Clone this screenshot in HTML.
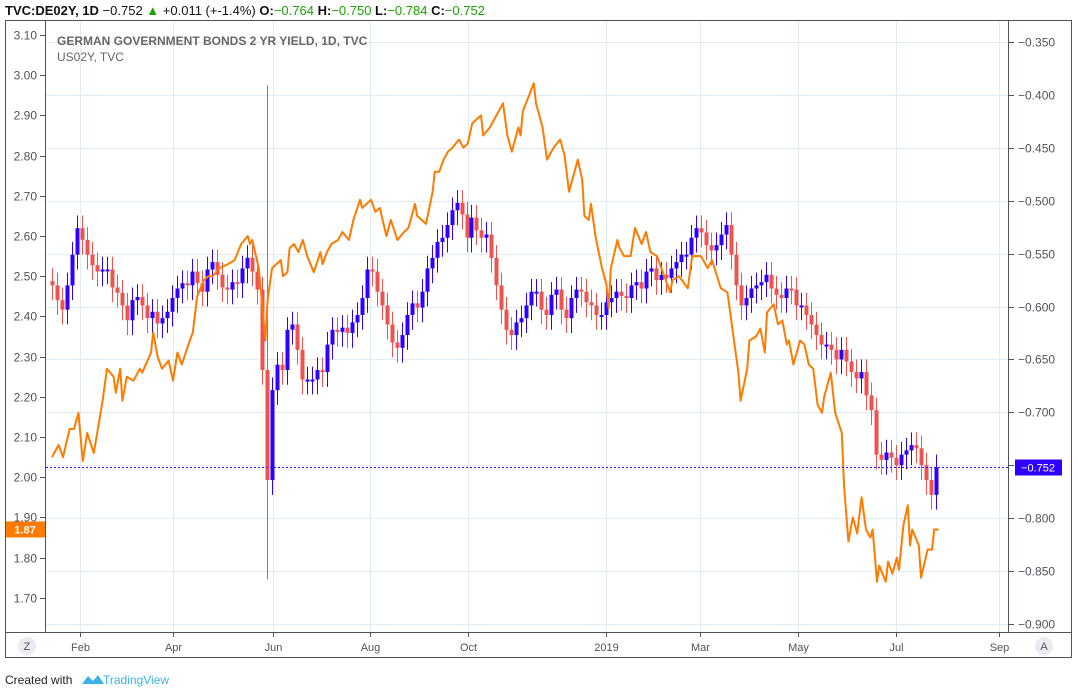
<!DOCTYPE html>
<html><head><meta charset="utf-8"><style>
body{margin:0;background:#fff;width:1078px;height:692px;overflow:hidden;font-family:"Liberation Sans",sans-serif}
svg{display:block}
text{font-family:"Liberation Sans",sans-serif}
</style></head><body>
<svg id="chart" width="1078" height="692" viewBox="0 0 1078 692">
<text x="5" y="15" font-size="13" font-weight="bold" fill="#111">TVC:DE02Y, 1D <tspan font-weight="normal">&#8722;0.752</tspan> <tspan fill="#19a300">▲</tspan><tspan font-weight="normal"> +0.011 (+-1.4%) </tspan>O:<tspan fill="#19a300" font-weight="normal">&#8722;0.764</tspan> H:<tspan fill="#19a300" font-weight="normal">&#8722;0.750</tspan> L:<tspan fill="#19a300" font-weight="normal">&#8722;0.784</tspan> C:<tspan fill="#19a300" font-weight="normal">&#8722;0.752</tspan></text>
<rect x="5.5" y="20.5" width="1066" height="637" fill="#fff" stroke="#50535e"/>
<g id="grid"></g>
<g id="plot"></g>
<line x1="45.5" y1="20" x2="45.5" y2="632" stroke="#50535e"/>
<line x1="1008.5" y1="20" x2="1008.5" y2="632" stroke="#50535e"/>
<line x1="5" y1="632.5" x2="1071" y2="632.5" stroke="#50535e"/>
<g id="axes"></g>
<text x="57" y="45" font-size="12" font-weight="bold" fill="#666">GERMAN GOVERNMENT BONDS 2 YR YIELD, 1D, TVC</text>
<text x="57" y="61" font-size="12" fill="#666">US02Y, TVC</text>
<circle cx="27" cy="646" r="9" fill="#e9ecf2"/>
<text x="27" y="650" font-size="11" fill="#555" text-anchor="middle">Z</text>
<circle cx="1044" cy="646" r="9" fill="#e9ecf2"/>
<text x="1044" y="650" font-size="11" fill="#555" text-anchor="middle">A</text>
<text x="5" y="684" font-size="12" fill="#222">Created with</text>
<path d="M82 684 l6 -8 l5 5 l5 -6 l6 9 z" fill="#3bb3e4"/>
<text x="103" y="684" font-size="12" fill="#3bb3e4">TradingView</text>
</svg>
<script>
const usDays=[0,3,5,8,10,12,14,16,19,23,25,28,29,31,32,34,37,40,41,45,46,48,50,53,55,57,59,62,64,66,69,71,73,76,80,83,86,89,90,91,94,95,97,98,100,102,104,105,107,108,110,112,114,116,119,122,123,125,127,130,132,135,137,140,141,145,147,149,152,154,157,160,162,165,166,170,173,174,176,178,180,182,185,187,189,191,195,196,199,202,205,207,209,212,213,214,219,220,223,225,228,231,233,235,239,241,242,244,245,247,250,252,253,254,257,258,260,263,265,268,270,272,275,277,281,282,285,289,291,295,298,300,304,307,310,312,313,316,317,320,322,324,325,328,330,332,334,335,337,339,340,342,344,346,348,350,351,354,356,359,360,362,364,366,368,370,372,373,375,376,379,380,382,384,385,387,389,390,391,394,395,398,400,401,403];
const usValues=[2.05,2.08,2.05,2.12,2.12,2.16,2.04,2.11,2.06,2.19,2.27,2.25,2.21,2.27,2.19,2.25,2.24,2.27,2.26,2.31,2.36,2.30,2.27,2.29,2.24,2.31,2.28,2.33,2.36,2.45,2.49,2.50,2.50,2.52,2.53,2.54,2.58,2.60,2.58,2.59,2.52,2.46,2.34,2.44,2.52,2.53,2.54,2.50,2.51,2.57,2.58,2.56,2.59,2.55,2.51,2.56,2.53,2.56,2.58,2.59,2.61,2.59,2.64,2.69,2.67,2.69,2.66,2.67,2.60,2.64,2.59,2.61,2.62,2.68,2.65,2.63,2.71,2.76,2.76,2.79,2.81,2.82,2.84,2.82,2.83,2.88,2.90,2.85,2.87,2.90,2.93,2.85,2.81,2.87,2.85,2.91,2.98,2.93,2.87,2.79,2.82,2.84,2.80,2.71,2.79,2.74,2.65,2.64,2.68,2.60,2.52,2.48,2.42,2.52,2.59,2.57,2.55,2.55,2.62,2.58,2.61,2.56,2.55,2.52,2.46,2.49,2.50,2.47,2.55,2.55,2.52,2.54,2.47,2.46,2.34,2.26,2.19,2.27,2.34,2.35,2.37,2.31,2.41,2.43,2.38,2.39,2.33,2.34,2.28,2.32,2.34,2.33,2.28,2.27,2.18,2.16,2.20,2.26,2.16,2.11,1.98,1.84,1.90,1.86,1.95,1.87,1.85,1.87,1.74,1.78,1.74,1.79,1.76,1.80,1.77,1.88,1.93,1.83,1.87,1.83,1.75,1.82,1.82,1.87,1.87];
const deCloses=[-0.580,-0.594,-0.603,-0.580,-0.551,-0.526,-0.537,-0.551,-0.561,-0.567,-0.565,-0.565,-0.582,-0.587,-0.599,-0.613,-0.594,-0.591,-0.599,-0.611,-0.605,-0.616,-0.611,-0.605,-0.592,-0.583,-0.578,-0.580,-0.567,-0.578,-0.586,-0.565,-0.558,-0.570,-0.582,-0.584,-0.577,-0.578,-0.564,-0.554,-0.567,-0.584,-0.660,-0.764,-0.679,-0.655,-0.660,-0.622,-0.617,-0.641,-0.669,-0.669,-0.669,-0.660,-0.662,-0.636,-0.622,-0.624,-0.620,-0.625,-0.615,-0.608,-0.592,-0.565,-0.567,-0.586,-0.599,-0.617,-0.634,-0.639,-0.627,-0.608,-0.597,-0.601,-0.586,-0.564,-0.554,-0.539,-0.535,-0.523,-0.509,-0.502,-0.513,-0.535,-0.516,-0.528,-0.535,-0.532,-0.554,-0.580,-0.603,-0.622,-0.627,-0.615,-0.611,-0.599,-0.586,-0.586,-0.603,-0.608,-0.589,-0.584,-0.603,-0.611,-0.592,-0.584,-0.586,-0.596,-0.599,-0.608,-0.608,-0.596,-0.592,-0.586,-0.590,-0.592,-0.580,-0.577,-0.583,-0.567,-0.564,-0.575,-0.570,-0.573,-0.564,-0.558,-0.551,-0.551,-0.535,-0.526,-0.530,-0.542,-0.547,-0.542,-0.532,-0.523,-0.551,-0.580,-0.599,-0.592,-0.583,-0.580,-0.577,-0.570,-0.583,-0.589,-0.592,-0.583,-0.584,-0.599,-0.599,-0.608,-0.617,-0.627,-0.636,-0.636,-0.641,-0.650,-0.641,-0.652,-0.662,-0.668,-0.662,-0.684,-0.698,-0.740,-0.745,-0.738,-0.743,-0.750,-0.740,-0.736,-0.731,-0.734,-0.750,-0.764,-0.778,-0.752];
const deOutlierIndex=[43];
const deOutlierHigh=[-0.391];
const deOutlierLow=[-0.858];
const leftTicks=[3.10,3.00,2.90,2.80,2.70,2.60,2.50,2.40,2.30,2.20,2.10,2.00,1.90,1.80,1.70];
const rightTicks=[-0.350,-0.400,-0.450,-0.500,-0.550,-0.600,-0.650,-0.700,-0.750,-0.800,-0.850,-0.900];
const monthLabels=["Feb","Apr","Jun","Aug","Oct","2019","Mar","May","Jul","Sep"];
const monthDays=[12.7,55,100.5,144.5,189,252,294.5,339,383.6,430.5];
const lastDE=-0.752, lastUS=1.87;

const NS="http://www.w3.org/2000/svg";
const xS=d=>52+2.2*d;
const yL=v=>35+(3.10-v)*402;
const yR=v=>42+(-0.35-v)/0.05*52.9;
const STEP=2.27;
function mk(tag,attrs,parent){const e=document.createElementNS(NS,tag);for(const k in attrs)e.setAttribute(k,attrs[k]);parent.appendChild(e);return e;}
const grid=document.getElementById('grid'),plot=document.getElementById('plot'),axes=document.getElementById('axes');

rightTicks.forEach(v=>{const y=Math.round(yR(v))+0.5;
 const g=mk('line',{x1:46,x2:1008,y1:y,y2:y,stroke:'#e3ebf2'},grid);
 
 
 const t=mk('line',{x1:1009,x2:1014,y1:y,y2:y,stroke:'#50535e'},axes);
 
 
 const l=mk('text',{x:1018,y:y+4,'font-size':12,fill:'#50535e'},axes);l.textContent=v.toFixed(3).replace('-','\u2212');
 
 
});
leftTicks.forEach(v=>{const y=Math.round(yL(v))+0.5;
 const t=mk('line',{x1:40,x2:45,y1:y,y2:y,stroke:'#50535e'},axes);
 
 
 const l=mk('text',{x:37,y:y+4,'font-size':12,fill:'#50535e','text-anchor':'end'},axes);l.textContent=v.toFixed(2);
 
 
});
monthDays.forEach((d,i)=>{const x=Math.round(xS(d))+0.5;
 const g=mk('line',{x1:x,x2:x,y1:21,y2:632,stroke:'#e3ebf2'},grid);
 
 
 const t=mk('line',{x1:x,x2:x,y1:633,y2:637,stroke:'#50535e'},axes);
 
 
 const l=mk('text',{x:x,y:651,'font-size':11,fill:'#50535e','text-anchor':'middle'},axes);l.textContent=monthLabels[i];
 
 
});
deCloses.forEach((c,i)=>{
 const o=i===0?c+0.004:deCloses[i-1];
 let hi=Math.max(o,c)+0.012, lo=Math.min(o,c)-0.014;
 const k=deOutlierIndex.indexOf(i); if(k>=0){hi=deOutlierHigh[k];lo=deOutlierLow[k];}
 const x=Math.round(xS(i*STEP));const col=c>=o?'#2f00ff':'#ef5350';
 const w=mk('line',{x1:x+0.5,x2:x+0.5,y1:yR(hi),y2:yR(lo),stroke:col,'stroke-width':1},plot);
 
 
 const yt=yR(Math.max(o,c)),yb=yR(Math.min(o,c));
 const b=mk('rect',{x:x-1.5,y:yt,width:4,height:Math.max(2,yb-yt),fill:col},plot);
 
 
});
const pts=usDays.map((d,i)=>xS(d).toFixed(1)+','+yL(usValues[i]).toFixed(1)).join(' ');
const pl=mk('polyline',{points:pts,fill:'none',stroke:'#ff7b00','stroke-width':2,'stroke-linejoin':'round'},plot);


const yl=Math.round(yR(lastDE))+0.5;
const dl=mk('line',{x1:46,x2:1008,y1:yl,y2:yl,stroke:'#2f00ff','stroke-dasharray':'2,2'},plot);


const rb=mk('rect',{x:1015,y:yl-8,width:47,height:16,fill:'#2f00ff'},axes);


const rt=mk('text',{x:1038,y:yl+4,'font-size':11,fill:'#fff','text-anchor':'middle'},axes);rt.textContent=lastDE.toFixed(3).replace('-','\u2212');


const yu=yL(lastUS);
const lb=mk('rect',{x:6,y:yu-8,width:39,height:16,fill:'#ff7b00'},axes);


const lt=mk('text',{x:25,y:yu+4,'font-size':11,fill:'#fff','text-anchor':'middle','font-weight':'bold'},axes);lt.textContent=lastUS.toFixed(2);


</script>
</body></html>
